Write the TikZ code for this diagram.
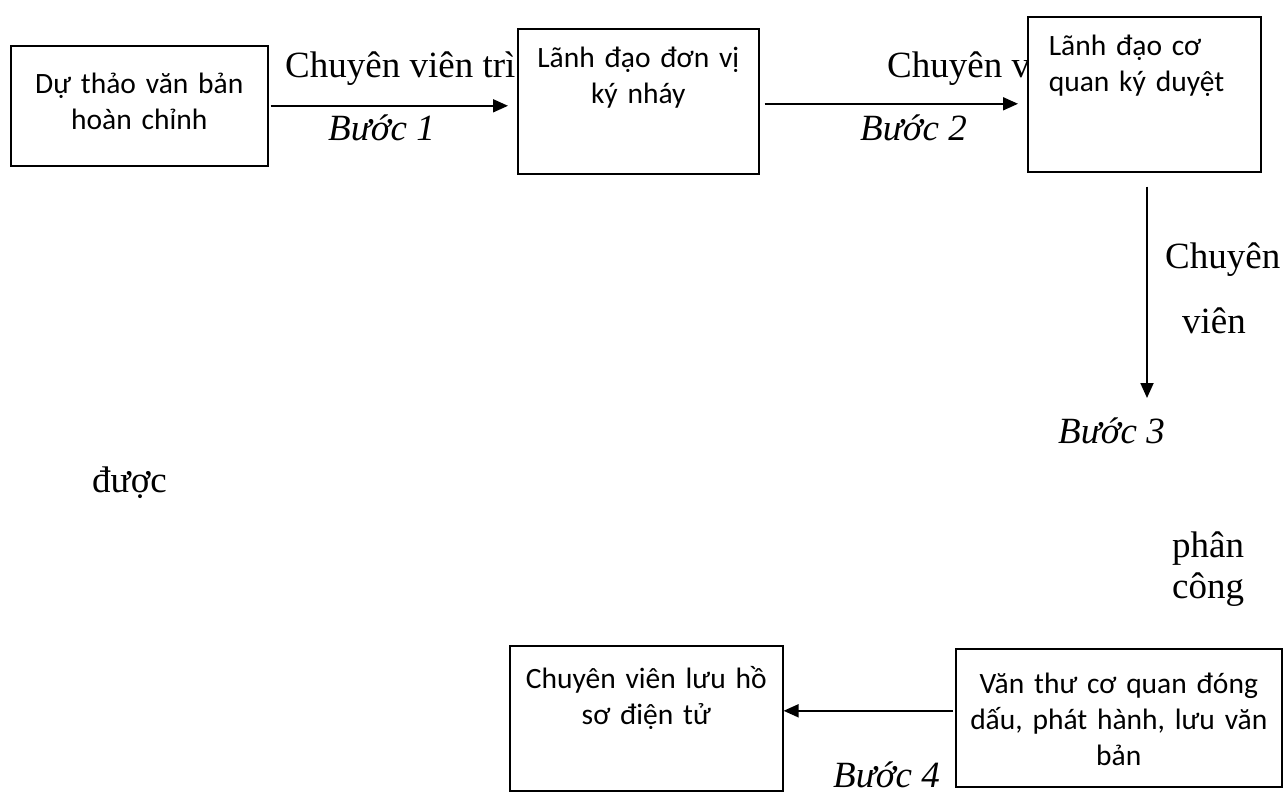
\documentclass[tikz,border=0pt]{standalone}
\usepackage{fontspec}
\setmainfont{Liberation Serif}
\newfontfamily\boxfont{Carlito}
\usetikzlibrary{arrows.meta}

\begin{document}
\begin{tikzpicture}[x=1pt, y=-1pt,
  box/.style={draw, line width=1.6pt, fill=white, anchor=north west, inner xsep=0pt, inner ysep=0pt,
    align=center, font=\boxfont\fontsize{29.5}{36}\selectfont},
  lbl/.style={anchor=base west, inner sep=0pt, font=\fontsize{37}{44}\selectfont},
  steplbl/.style={lbl, font=\itshape\fontsize{37}{44}\selectfont},
  flow/.style={line width=1.8pt, -{Triangle[length=15pt,width=13pt]}}]
\useasboundingbox (0,0) rectangle (1283,795);

% texts along the arrows (the boxes are drawn over them)
\node[lbl] (submit) at (285,77) {Chuyên viên trì};
\node[steplbl] (stepone) at (328,140) {Bước 1};
\node[lbl] (forward) at (887,77) {Chuyên v};
\node[steplbl] (steptwo) at (860,140) {Bước 2};
\node[lbl] (clerka) at (1165,268) {Chuyên};
\node[lbl] (clerkb) at (1182,333) {viên};
\node[steplbl] (stepthree) at (1058,443) {Bước 3};
\node[lbl] (given) at (92,492) {được};
\node[lbl] (assigna) at (1172,557) {phân};
\node[lbl] (assignb) at (1172,598) {công};
\node[steplbl] (stepfour) at (833,787) {Bước 4};

% boxes
\node[box, text width=257pt, text height=48pt, text depth=72pt] (draft) at (10,45) {Dự thảo văn bản\\hoàn chỉnh};
\node[box, text width=241pt, text height=39pt, text depth=106pt] (sign) at (517,28) {Lãnh đạo đơn vị\\ký nháy};
\node[box, align=left, inner xsep=21pt, text width=191pt, text height=39pt, text depth=116pt] (approve) at (1027,16) {Lãnh đạo cơ\\quan ký duyệt};
\node[box, text width=273pt, text height=43pt, text depth=102pt] (archive) at (509,645) {Chuyên viên lưu hồ\\sơ điện tử};
\node[box, text width=326pt, text height=45pt, text depth=93pt] (issue) at (955,648) {Văn thư cơ quan đóng\\dấu, phát hành, lưu văn\\bản};

% arrows
\coordinate (stepthreeend) at (1147,398);
\draw[flow, shorten <=2pt, shorten >=9pt] (draft.east) -- (draft.east -| sign.west);
\draw[flow, shorten <=5pt, shorten >=9pt] ([yshift=-2.5pt]sign.east) -- ([yshift=-2.5pt]sign.east -| approve.west);
\draw[flow, shorten <=14pt] (approve.south -| stepthreeend) -- (stepthreeend);
\draw[flow, shorten <=2pt] ([yshift=7pt]issue.west) -- ([yshift=7pt]issue.west -| archive.east);
\end{tikzpicture}
\end{document}
